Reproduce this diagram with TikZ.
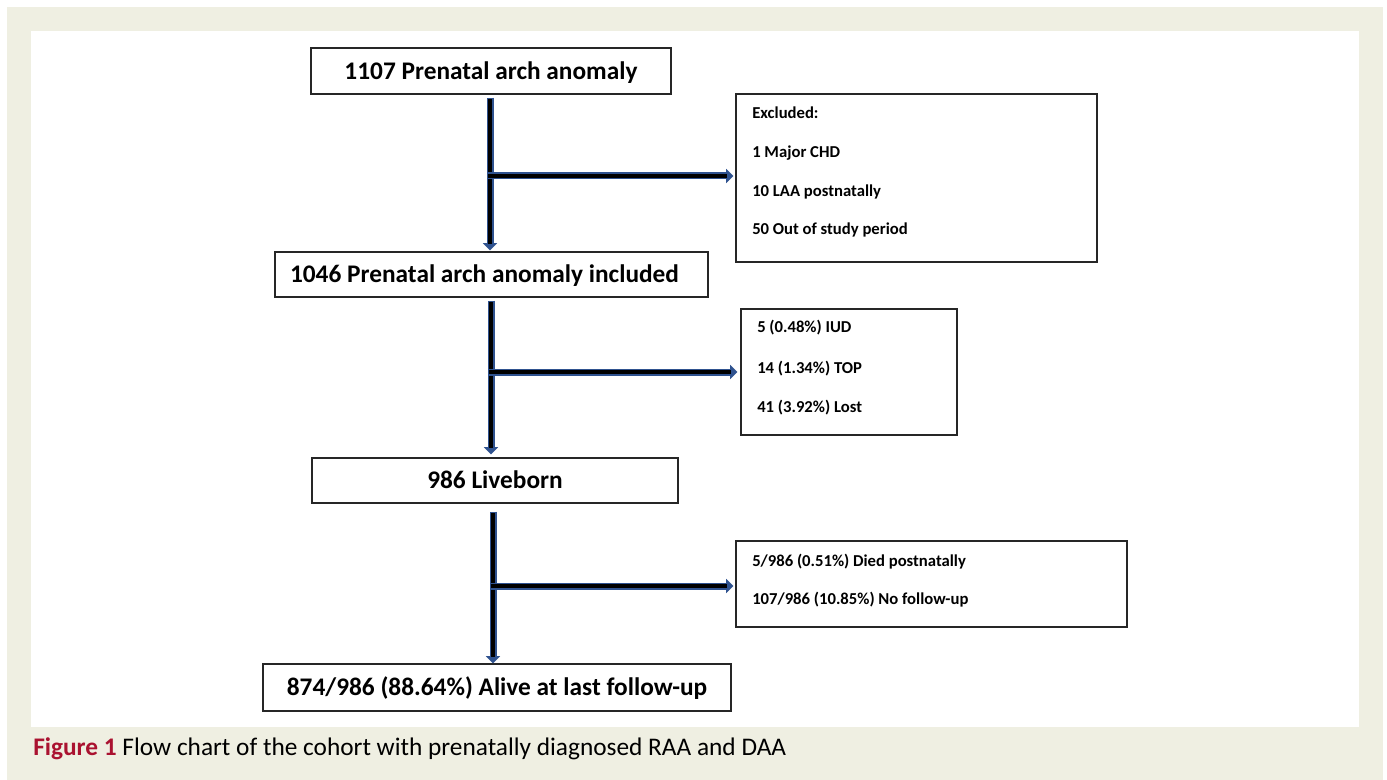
\documentclass[tikz,border=0pt]{standalone}
\usepackage{fontspec}
\setmainfont{Carlito}
\usetikzlibrary{arrows.meta,calc}
\newdimen\px \px=0.75pt
\definecolor{bgbeige}{RGB}{239,239,226}
\definecolor{arrblue}{RGB}{47,82,143}
\definecolor{figred}{RGB}{170,18,48}
\tikzset{
  flowbox/.style={draw=black!85, line width=0.9pt, inner sep=0pt, font=\bfseries\fontsize{19}{22}\selectfont, text height=12.6pt, text depth=0pt},
  sidebox/.style={draw=black!85, line width=0.9pt, inner sep=0pt},
  sidetext/.style={anchor=base west, inner sep=0pt, font=\bfseries\fontsize{12.5}{15}\selectfont},
  outerarr/.style={draw=arrblue, line width=5.25pt, -{Triangle[length=5.5pt,width=10.5pt,fill=arrblue]}},
  innerarr/.style={draw=black, line width=2.7pt, shorten >=4.5pt},
}
\newcommand\fatarrow[2]{%
  \draw[outerarr] #1 -- #2;
  \draw[innerarr, shorten <=1.1pt] #1 -- #2;}
\begin{document}
\begin{tikzpicture}[x=0.75pt,y=-0.75pt]
\useasboundingbox (0,0) rectangle (1387,780);
\fill[white] (0,0) rectangle (1387,780);
\fill[bgbeige] (7,7) rectangle (1383,780);
\fill[white] (31,31) rectangle (1359,727);

% main boxes
\node[flowbox, minimum width=270pt, minimum height=34.5pt] (top) at (491,71) {1107 Prenatal arch anomaly};
\node[flowbox, minimum width=324.75pt, minimum height=33.75pt] (inc) at (491.5,274.5) {1046 Prenatal arch anomaly included\hspace*{10.5pt}};
\node[flowbox, minimum width=274.5pt, minimum height=33.75pt] (live) at (495,480.5) {986 Liveborn};
\node[flowbox, minimum width=351pt, minimum height=35.25pt] (alive) at (497,687.5) {874/986 (88.64\%) Alive at last follow-up};

% side boxes
\node[sidebox, minimum width=270.75pt, minimum height=126pt] (excl) at (916.5,178) {};
\node[sidetext] (e1) at (752,119) {Excluded:};
\node[sidetext] (e2) at (752,158) {1 Major CHD};
\node[sidetext] (e3) at (752,197) {10 LAA postnatally};
\node[sidetext] (e4) at (752,235) {50 Out of study period};

\node[sidebox, minimum width=162pt, minimum height=94.5pt] (fet) at (849,372) {};
\node[sidetext] (f1) at (757,333) {5 (0.48\%) IUD};
\node[sidetext] (f2) at (757,373) {14 (1.34\%) TOP};
\node[sidetext] (f3) at (757,412) {41 (3.92\%) Lost};

\node[sidebox, minimum width=293.25pt, minimum height=64.5pt] (post) at (931.5,584) {};
\node[sidetext] (p1) at (752,566) {5/986 (0.51\%) Died postnatally};
\node[sidetext] (p2) at (752,604) {107/986 (10.85\%) No follow-up};

% junctions
\coordinate (j1) at (490,176);
\coordinate (j2) at (491,372);
\coordinate (j3) at (493,586);

\fatarrow{($(top.south -| j1)+(0,3)$)}{($(inc.north -| j1)+(0,-1)$)}
\fatarrow{($(j1)+(-3,0)$)}{($(excl.west |- j1)+(-2,0)$)}
\fatarrow{($(inc.south -| j2)+(0,3)$)}{($(live.north -| j2)+(0,-3)$)}
\fatarrow{($(j2)+(-3,0)$)}{($(fet.west)+(-3,0)$)}
\fatarrow{($(live.south -| j3)+(0,8)$)}{(alive.north -| j3)}
\fatarrow{($(j3)+(-3,0)$)}{($(post.west |- j3)+(-2,0)$)}

% caption
\node[anchor=base west, inner sep=0pt, font=\fontsize{19}{22}\selectfont] (cap) at (33,755)
  {\textcolor{figred}{\bfseries Figure 1} Flow chart of the cohort with prenatally diagnosed RAA and DAA};
\end{tikzpicture}
\end{document}
